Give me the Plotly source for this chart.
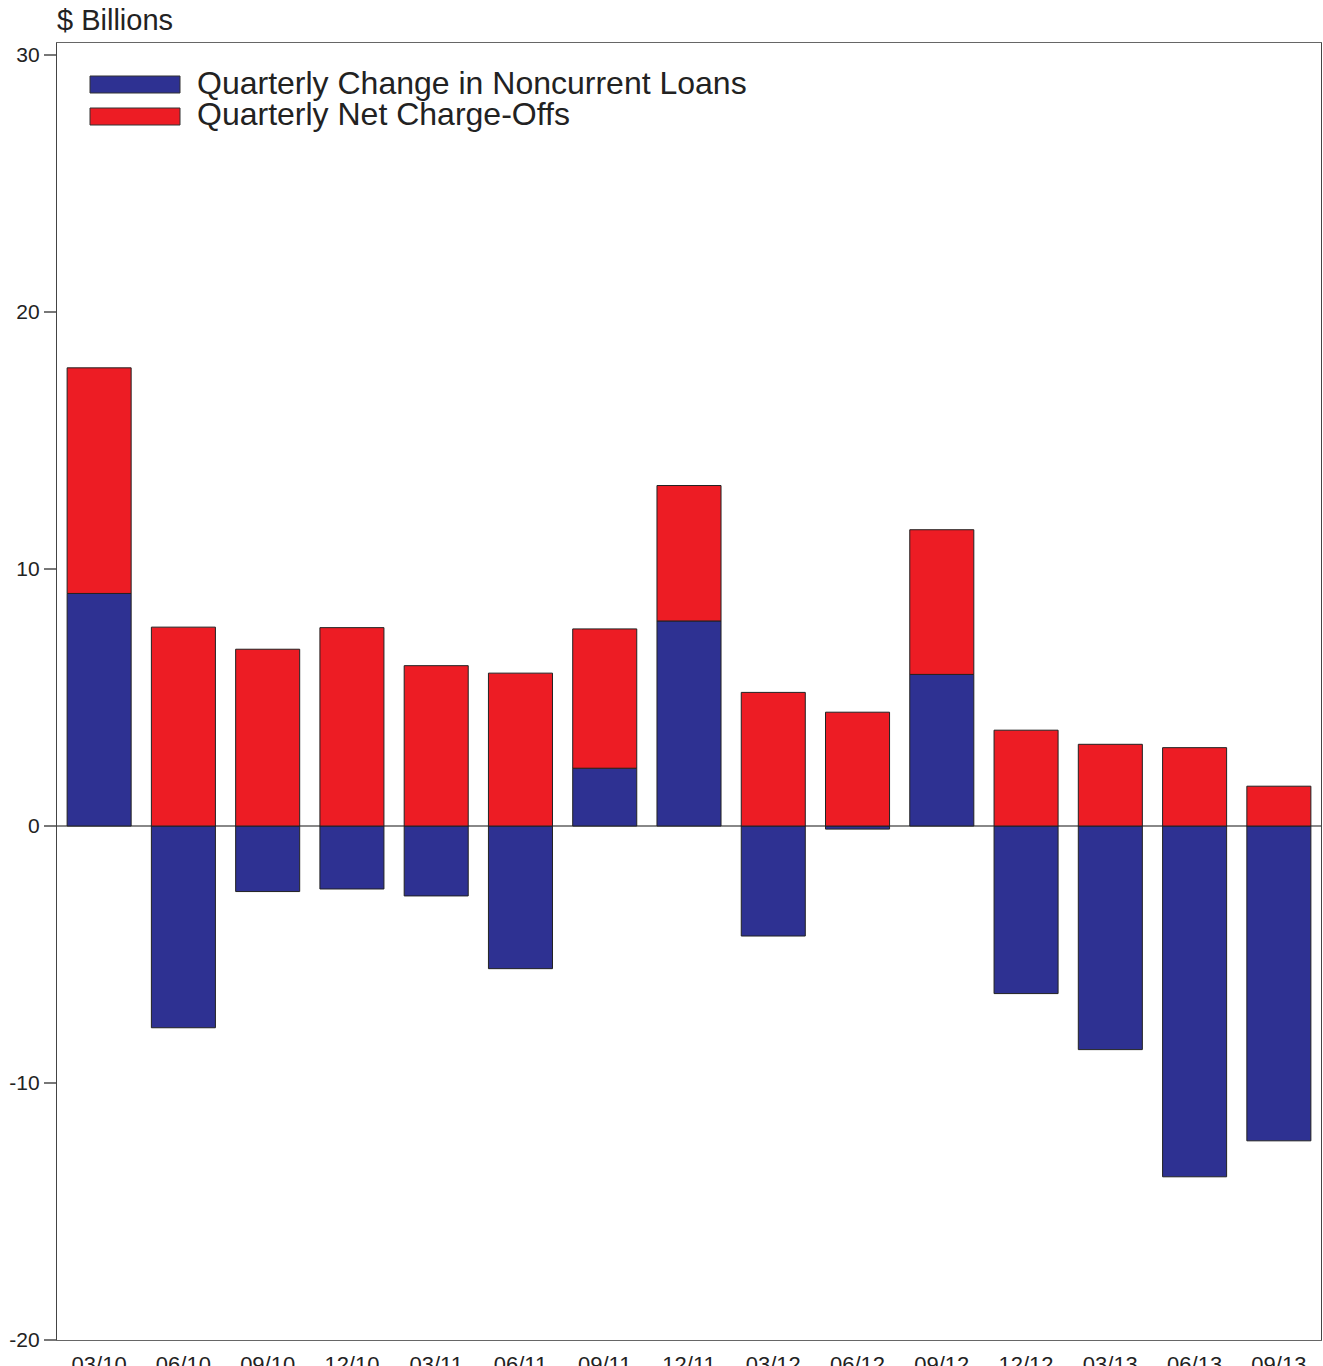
import plotly.graph_objects as go

quarters = ["03/10", "06/10", "09/10", "12/10", "03/11", "06/11", "09/11", "12/11",
            "03/12", "06/12", "09/12", "12/12", "03/13", "06/13", "09/13"]
noncurrent_change = [9.05, -7.85, -2.55, -2.45, -2.72, -5.55, 2.25, 7.98,
                     -4.28, -0.12, 5.90, -6.52, -8.70, -13.65, -12.25]
net_chargeoffs = [8.78, 7.74, 6.88, 7.72, 6.24, 5.95, 5.42, 5.27,
                  5.20, 4.43, 5.63, 3.73, 3.18, 3.05, 1.55]
y_ticks = [-20, -10, 0, 10, 20, 30]
y_tick_labels = ["-20", "-10", "0", "10", "20", "30"]

BLUE = "#2E3192"
RED = "#ED1C24"
FONT = "Liberation Sans, Arial, sans-serif"

fig = go.Figure()
fig.add_trace(go.Bar(x=quarters, y=noncurrent_change, name="Quarterly Change in Noncurrent Loans",
                     marker=dict(color=BLUE, line=dict(color="#222", width=1))))
fig.add_trace(go.Bar(x=quarters, y=net_chargeoffs, name="Quarterly Net Charge-Offs",
                     marker=dict(color=RED, line=dict(color="#222", width=1))))

fig.update_layout(
    width=1323, height=1366,
    margin=dict(l=57, r=2, t=43, b=26),
    barmode="relative", bargap=0.24,
    plot_bgcolor="white", paper_bgcolor="white",
    showlegend=False,
    font=dict(family=FONT, color="#222"),
)
fig.update_yaxes(range=[-20, 30.47], tickvals=y_ticks, ticktext=y_tick_labels,
                 ticks="outside", ticklen=12, tickcolor="#777", tickwidth=1.5,
                 tickfont=dict(size=21, color="#222"), automargin=False,
                 showgrid=False, showline=True, linecolor="#444", linewidth=1.2, mirror=True,
                 zeroline=True, zerolinecolor="#888", zerolinewidth=1.5)
fig.update_xaxes(ticks="outside", ticklen=4, tickcolor="rgba(0,0,0,0)",
                 tickfont=dict(size=22, color="#222"), automargin=False,
                 showgrid=False, showline=True, linecolor="#666", linewidth=1.2, mirror=True)

# Title
fig.add_annotation(text="$ Billions", xref="paper", yref="paper", x=0, y=1, xshift=-2, yshift=23,
                   xanchor="left", yanchor="middle", showarrow=False,
                   font=dict(size=29, color="#222", family=FONT))

# Custom legend
legend_items = [("Quarterly Change in Noncurrent Loans", BLUE, 84.5),
                ("Quarterly Net Charge-Offs", RED, 116.5)]
for label, color, yc in legend_items:
    y_top = 1 - (yc - 8.5 - 43) / 1297
    y_bot = 1 - (yc + 8.5 - 43) / 1297
    x0 = (90 - 57) / 1264
    x1 = (180 - 57) / 1264
    fig.add_shape(type="rect", xref="paper", yref="paper", x0=x0, x1=x1, y0=y_bot, y1=y_top,
                  fillcolor=color, line=dict(color="#333", width=1))
    fig.add_annotation(text=label, xref="paper", yref="paper",
                       x=(195 - 57) / 1264, y=1 - (yc - 2 - 43) / 1297,
                       xanchor="left", yanchor="middle", showarrow=False,
                       font=dict(size=32, color="#222", family=FONT))

fig.write_html("out.html", config={"displayModeBar": False},
               post_script="document.body.style.margin='0';document.body.style.overflow='hidden';")
